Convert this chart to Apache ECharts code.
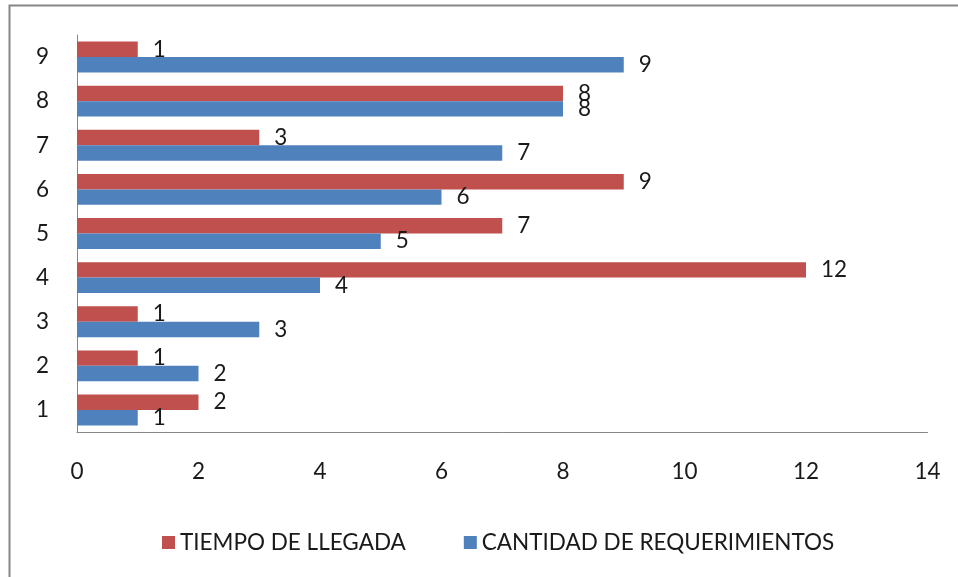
<!DOCTYPE html>
<html>
<head>
<meta charset="utf-8">
<script src="https://cdn.jsdelivr.net/npm/echarts@6/dist/echarts.min.js"></script>
<style>
  html, body { margin: 0; padding: 0; background: #fff; }
  #main { width: 958px; height: 577px; }
</style>
</head>
<body>
<div id="main"></div>
<script>
// categorias del eje vertical (de abajo hacia arriba)
const categories = ['1', '2', '3', '4', '5', '6', '7', '8', '9'];
const tiempoLlegada = [2, 1, 1, 12, 7, 9, 3, 8, 1];
const cantidadReq = [1, 2, 3, 4, 5, 6, 7, 8, 9];
const xTicks = [0, 2, 4, 6, 8, 10, 12, 14];

const font = 'Lato, sans-serif';
const fs = 22.5;
const chart = echarts.init(document.getElementById('main'));

const labelStyle = {
  show: true,
  position: 'right',
  distance: 15,
  fontSize: fs,
  fontFamily: font,
  color: '#1a1a1a'
};

chart.setOption({
  animation: false,
  graphic: [{
    type: 'rect',
    shape: { x: 9.5, y: 5.5, width: 1000, height: 1000 },
    style: { fill: 'none', stroke: '#868686', lineWidth: 2 },
    silent: true
  }],
  grid: { left: 77, right: 30.5, top: 35, bottom: 145 },
  legend: {
    bottom: 18,
    left: 157,
    itemWidth: 13,
    itemHeight: 13,
    itemGap: 58,
    icon: 'rect',
    textStyle: { fontSize: fs, fontFamily: font, color: '#1a1a1a' },
    data: ['TIEMPO DE LLEGADA', 'CANTIDAD DE REQUERIMIENTOS']
  },
  xAxis: {
    type: 'value',
    min: xTicks[0],
    max: xTicks[xTicks.length - 1],
    interval: 2,
    axisLine: { show: true, lineStyle: { color: '#868686' } },
    axisTick: { show: false },
    splitLine: { show: false },
    axisLabel: { fontSize: fs, fontFamily: font, color: '#1a1a1a', margin: 28 }
  },
  yAxis: {
    type: 'category',
    data: categories,
    axisLine: { show: true, lineStyle: { color: '#868686' } },
    axisTick: { show: false },
    axisLabel: { fontSize: fs, fontFamily: font, color: '#1a1a1a', margin: 28 }
  },
  series: [
    {
      name: 'TIEMPO DE LLEGADA',
      type: 'bar',
      data: tiempoLlegada,
      barGap: '0%',
      barCategoryGap: '30%',
      itemStyle: { color: '#C0504D' },
      label: labelStyle
    },
    {
      name: 'CANTIDAD DE REQUERIMIENTOS',
      type: 'bar',
      data: cantidadReq,
      barGap: '0%',
      barCategoryGap: '30%',
      itemStyle: { color: '#4F81BD' },
      label: labelStyle
    }
  ]
});
</script>
</body>
</html>
